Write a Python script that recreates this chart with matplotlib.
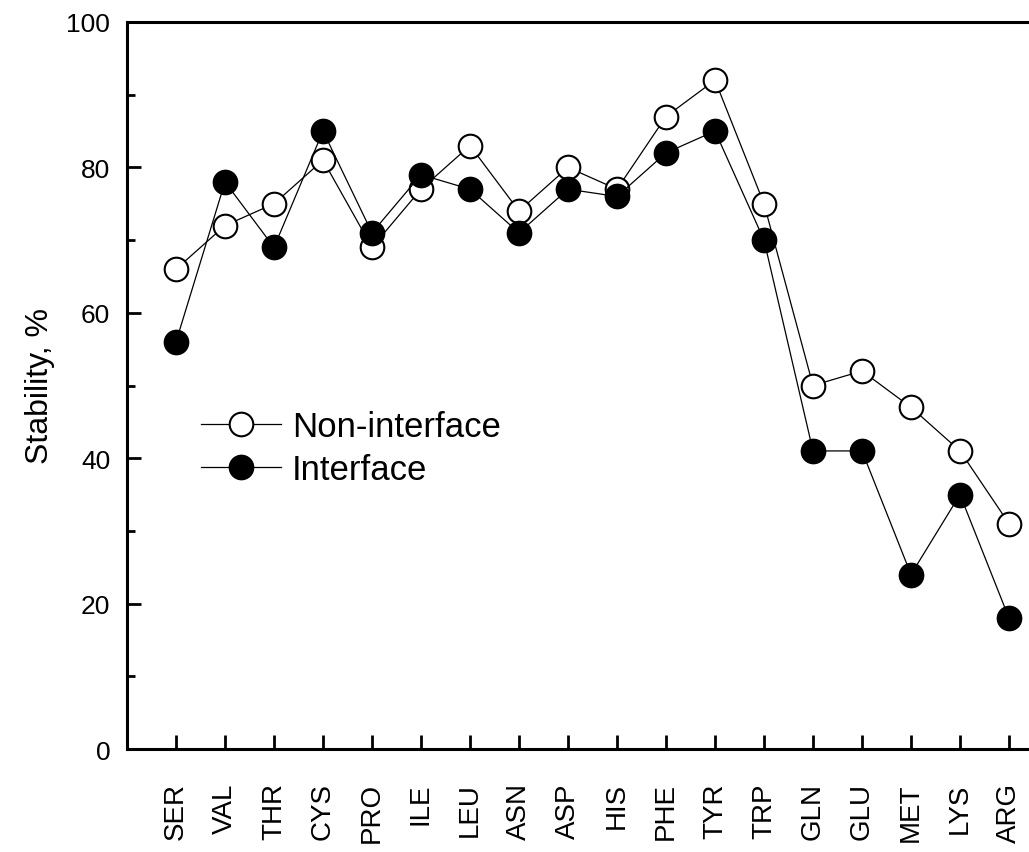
import matplotlib
matplotlib.use("Agg")
import matplotlib.pyplot as plt
from matplotlib.ticker import MultipleLocator

plt.rcParams['font.family'] = ['Liberation Sans', 'DejaVu Sans']

residues = ["SER", "VAL", "THR", "CYS", "PRO", "ILE", "LEU", "ASN", "ASP",
            "HIS", "PHE", "TYR", "TRP", "GLN", "GLU", "MET", "LYS", "ARG"]
non_interface = [66, 72, 75, 81, 69, 77, 83, 74, 80, 77, 87, 92, 75, 50, 52, 47, 41, 31]
interface = [56, 78, 69, 85, 71, 79, 77, 71, 77, 76, 82, 85, 70, 41, 41, 24, 35, 18]

fig = plt.figure(figsize=(10.29, 8.53), dpi=100)
ax = fig.add_axes([127/1029, 1-750/853, (1058-127)/1029, (750-23)/853])

x = list(range(len(residues)))
ax.plot(x, non_interface, color='black', lw=0.9, marker='o', ms=17,
        mfc='white', mec='black', mew=1.5, label='Non-interface', zorder=3)
ax.plot(x, interface, color='black', lw=0.9, marker='o', ms=17,
        mfc='black', mec='black', mew=1.5, label='Interface', zorder=4)

ax.set_xlim(-1, 18)
ax.set_ylim(0, 100)
ax.set_xticks(x)
ax.set_xticklabels(residues, rotation=90, fontsize=20)
ax.yaxis.set_major_locator(MultipleLocator(20))
ax.yaxis.set_minor_locator(MultipleLocator(10))
ax.tick_params(axis='both', which='major', direction='in', length=10, width=2)
ax.tick_params(axis='y', which='major', pad=12, labelsize=19)
ax.tick_params(axis='x', which='major', pad=24)
ax.tick_params(axis='y', which='minor', direction='in', length=6, width=2)
for s in ax.spines.values():
    s.set_linewidth(2.2)
ax.set_ylabel('Stability, %', fontsize=23, labelpad=8)

leg = ax.legend(loc='upper left', bbox_to_anchor=(0.065, 0.485), frameon=False,
                fontsize=25, handlelength=2.3, handletextpad=0.3, labelspacing=0.27,
                borderaxespad=0)

fig.savefig('out.png', dpi=100)
